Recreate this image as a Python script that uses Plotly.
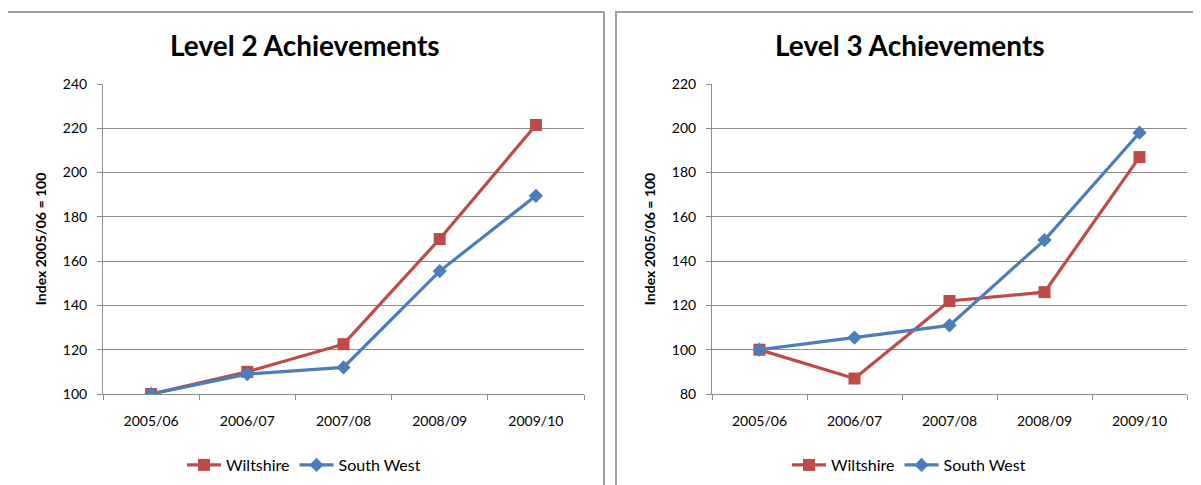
import plotly.graph_objects as go

categories = ["2005/06", "2006/07", "2007/08", "2008/09", "2009/10"]
l2_wiltshire = [100, 110, 122.5, 170, 221.5]
l2_southwest = [100, 109, 112, 155.5, 189.5]
l3_wiltshire = [100, 87, 122, 126, 187]
l3_southwest = [100, 105.5, 111, 149.5, 198]
titles = ["Level 2 Achievements", "Level 3 Achievements"]
y_title = "Index 2005/06 = 100"

OFF = 8  # page body margin in the browser
W, H = 1201 - OFF, 485 - OFF
RED = "#BE4B48"
BLUE = "#4A7EBB"
FONT = "Lato"

def px(x):
    return (x - OFF) / W

def py(y):
    return 1 - (y - OFF) / H

fig = go.Figure()

def add_pair(wilt, sw, xa, ya, legend):
    fig.add_trace(go.Scatter(x=categories, y=wilt, name="Wiltshire", mode="lines+markers",
                             line=dict(color=RED, width=3.2),
                             marker=dict(symbol="square", size=12, color=RED),
                             xaxis=xa, yaxis=ya, legend=legend, showlegend=True))
    fig.add_trace(go.Scatter(x=categories, y=sw, name="South West", mode="lines+markers",
                             line=dict(color=BLUE, width=3.2),
                             marker=dict(symbol="diamond", size=11, color=BLUE),
                             xaxis=xa, yaxis=ya, legend=legend, showlegend=True))

add_pair(l2_wiltshire, l2_southwest, "x", "y", "legend")
add_pair(l3_wiltshire, l3_southwest, "x2", "y2", "legend2")

axis_common = dict(showline=True, linecolor="#8C8C8C", linewidth=1,
                   ticks="outside", tickcolor="#8C8C8C", ticklen=5, automargin=False,
                   tickfont=dict(family=FONT, size=14, color="#000000"))

ytitle = dict(text="<b>" + y_title + "</b>", font=dict(family=FONT, size=14), standoff=12)

fig.update_layout(
    width=W, height=H,
    margin=dict(l=0, r=0, t=0, b=0, autoexpand=False),
    paper_bgcolor="white", plot_bgcolor="white",
    font=dict(family=FONT, color="#000000"),
    xaxis=dict(domain=[px(103), px(584)], anchor="y", type="category",
               range=[-0.5, 4.5], tickson="boundaries", showgrid=False,
               ticklabelstandoff=14, **axis_common),
    yaxis=dict(domain=[py(394), py(84)], anchor="x", range=[100, 240], dtick=20,
               showgrid=True, gridcolor="#8C8C8C", gridwidth=1, zeroline=False,
               ticklabelstandoff=7, title=ytitle, **axis_common),
    xaxis2=dict(domain=[px(712), px(1187)], anchor="y2", type="category",
                range=[-0.5, 4.5], tickson="boundaries", showgrid=False,
                ticklabelstandoff=14, **axis_common),
    yaxis2=dict(domain=[py(394), py(84)], anchor="x2", range=[80, 220], dtick=20,
                showgrid=True, gridcolor="#8C8C8C", gridwidth=1, zeroline=False,
                ticklabelstandoff=7, title=ytitle, **axis_common),
    legend=dict(orientation="h", x=px(182), y=py(465), xanchor="left", yanchor="middle",
                font=dict(family=FONT, size=16), itemwidth=34, tracegroupgap=0,
                bgcolor="rgba(0,0,0,0)"),
    legend2=dict(orientation="h", x=px(787), y=py(465), xanchor="left", yanchor="middle",
                 font=dict(family=FONT, size=16), itemwidth=34, tracegroupgap=0,
                 bgcolor="rgba(0,0,0,0)"),
    shapes=[
        dict(type="rect", xref="paper", yref="paper", x0=px(7), x1=px(604), y0=py(500), y1=py(12),
             line=dict(color="#A0A0A0", width=2), fillcolor="rgba(0,0,0,0)", layer="below"),
        dict(type="rect", xref="paper", yref="paper", x0=px(616), x1=px(1215), y0=py(500), y1=py(12),
             line=dict(color="#A0A0A0", width=2), fillcolor="rgba(0,0,0,0)", layer="below"),
    ],
    annotations=[
        dict(text="<b>" + titles[0] + "</b>", x=px(305), y=py(45), xref="paper", yref="paper",
             xanchor="center", yanchor="middle",
             showarrow=False, font=dict(family=FONT, size=28, color="#000000")),
        dict(text="<b>" + titles[1] + "</b>", x=px(910), y=py(45), xref="paper", yref="paper",
             xanchor="center", yanchor="middle",
             showarrow=False, font=dict(family=FONT, size=28, color="#000000")),
    ],
)

fig.write_html("out.html")
